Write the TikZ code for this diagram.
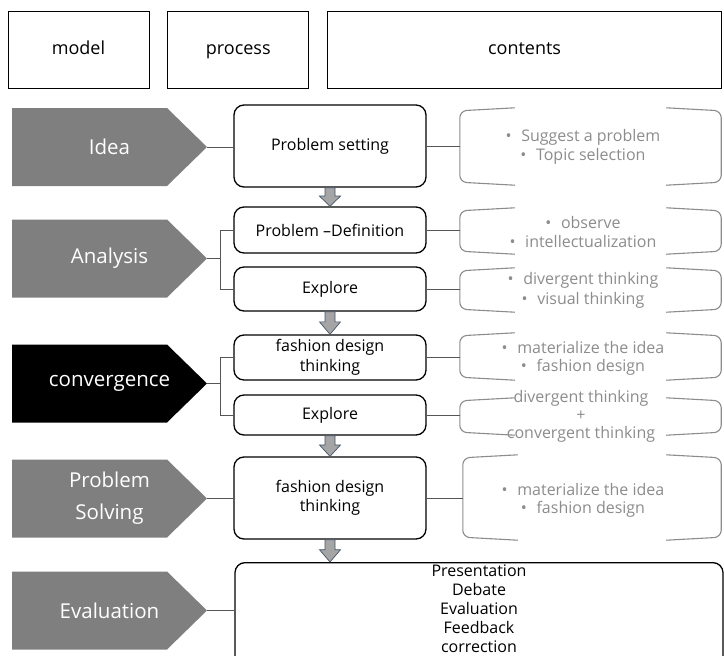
\documentclass[tikz,border=0pt]{standalone}
\usepackage{fontspec}
\setmainfont{Open Sans}
\usetikzlibrary{positioning,calc}

\definecolor{modelgray}{HTML}{7F7F7F}
\definecolor{arrowfill}{HTML}{A5A5A5}
\definecolor{arrowline}{HTML}{44546A}
\definecolor{contentgray}{HTML}{8C8C8C}
\definecolor{bracketgray}{HTML}{8C8C8C}
\definecolor{linkgray}{HTML}{555555}

% two open brackets round a contents node
\newcommand\contentbracket[1]{%
  \draw[bracketline] ($(#1.north west)+(55,-3)$) -- (#1.north west) -- (#1.south west) -- ($(#1.south west)+(55,3)$);
  \draw[bracketline] ($(#1.north east)+(-55,-3)$) -- (#1.north east) -- (#1.south east) -- ($(#1.south east)+(-55,3)$);}

\begin{document}
\begin{tikzpicture}[x=1pt, y=-1pt,
  headbox/.style={draw, line width=0.8pt, minimum width=141pt, minimum height=77pt, inner sep=0, text height=13pt, text depth=4pt, font=\fontsize{18}{22}\selectfont},
  modelstep/.style={minimum width=195pt, minimum height=78pt, inner sep=0, text=white, align=center, font=\fontsize{20.5}{32}\selectfont,
    path picture={\fill[#1] (path picture bounding box.north west) -- ($(path picture bounding box.north east)+(-40,0)$)
      -- (path picture bounding box.east) -- ($(path picture bounding box.south east)+(-40,0)$)
      -- (path picture bounding box.south west) -- cycle;}},
  modelstep/.default=modelgray,
  procbox/.style={draw, rounded corners=10pt, line width=1.3pt, minimum width=192pt, inner sep=2pt, align=center, font=\fontsize{16}{19.5}\selectfont},
  cbox/.style={minimum width=261pt, inner sep=0},
  ctext/.style={text=contentgray, align=center, inner sep=0, font=\fontsize{16}{19.5}\selectfont},
  bracketline/.style={draw=bracketgray, line width=1.1pt, rounded corners=7pt},
  linkline/.style={draw=linkgray, line width=0.8pt},
  blockarrow/.style={fill=arrowfill, draw=arrowline, line width=0.7pt,
    to path={($(\tikztostart)+(-5,0)$) -- ($(\tikztostart)+(5,0)$)
      -- ($(\tikztostart)!0.45!(\tikztotarget)+(5,0)$) -- ($(\tikztostart)!0.45!(\tikztotarget)+(10.5,0)$)
      -- (\tikztotarget) -- ($(\tikztostart)!0.45!(\tikztotarget)+(-10.5,0)$)
      -- ($(\tikztostart)!0.45!(\tikztotarget)+(-5,0)$) -- cycle}}]
\useasboundingbox (0,0) rectangle (724,656);
\clip (0,0) rectangle (724,656);

% column heads
\node (modelhead) [headbox] at (78.5,49.5) {model};
\node (processhead) [headbox, right=18pt of modelhead] {process};
\node (contentshead) [headbox, minimum width=394pt, right=18pt of processhead] {contents};

% model steps
\node (idea) [modelstep] at (109.5,147) {Idea};
\node (analysis) [modelstep] at (109.5,258.5) {Analysis};
\node (convergence) [modelstep=black] at (109.5,383.5) {convergence};
\node (solving) [modelstep] at (109.5,498.5) {Problem\\Solving};
\node (evaluation) [modelstep] at (109.5,610.5) {Evaluation};

% process boxes
\node (setting) [procbox, minimum height=82pt] at (330,146) {Problem setting};
\node (definition) [procbox, minimum height=46pt] at (330,230) {Problem –Definition};
\node (explore1) [procbox, minimum height=44pt] at (330,289) {Explore};
\node (design1) [procbox, minimum height=45pt] at (330,357.5) {fashion design\\thinking};
\node (explore2) [procbox, minimum height=40pt] at (330,415) {Explore};
\node (design2) [procbox, minimum height=82pt] at (330,498) {fashion design\\thinking};
\node (review) [procbox, minimum width=488pt, inner ysep=2pt, anchor=north, font=\fontsize{16}{19}\selectfont] at (479,562) {Presentation\\Debate\\Evaluation\\Feedback\\correction\rule[-14pt]{0pt}{14pt}};

% contents
\node (cb1) [cbox, minimum height=71pt] at (590.5,146.5) {};
\node (cb2) [cbox, minimum height=40pt] at (590.5,231) {};
\node (cb3) [cbox, minimum height=38pt] at (590.5,290) {};
\node (cb4) [cbox, minimum height=41pt] at (590.5,356.5) {};
\node (cb5) [cbox, minimum height=31pt] at (590.5,416.5) {};
\node (cb6) [cbox, minimum width=258pt, minimum height=79pt] at (592,497.5) {};
\foreach \b in {cb1,cb2,cb3,cb4,cb5,cb6} {\contentbracket{\b}}

\node (c1) [ctext] at (583,147) {\textbullet\hspace{0.6em}Suggest a problem\\\textbullet\hspace{0.6em}Topic selection};
\node (c2) [ctext, font=\fontsize{16}{18.5}\selectfont] at (583,232) {\textbullet\hspace{0.6em}observe\\\textbullet\hspace{0.6em}intellectualization};
\node (c3) [ctext] at (583,290.5) {\textbullet\hspace{0.6em}divergent thinking\\\textbullet\hspace{0.6em}visual thinking};
\node (c4) [ctext, font=\fontsize{16}{18}\selectfont] at (583,358) {\textbullet\hspace{0.6em}materialize the idea\\\textbullet\hspace{0.6em}fashion design};
\node (c5) [ctext, font=\fontsize{16}{18}\selectfont] at (581,416) {divergent thinking\\+\\convergent thinking};
\node (c6) [ctext, font=\fontsize{16}{18}\selectfont] at (583,500) {\textbullet\hspace{0.6em}materialize the idea\\\textbullet\hspace{0.6em}fashion design};

% model to process
\draw[linkline] (idea.east) -- (idea.east -| setting.west);
\coordinate (ajoin) at ($(analysis.east)+(13,0)$);
\draw[linkline] (analysis.east) -- (ajoin);
\draw[linkline] (definition.west) -| (ajoin) |- (explore1.west);
\coordinate (cjoin) at ($(convergence.east)+(13,0)$);
\draw[linkline] (convergence.east) -- (cjoin);
\draw[linkline] (design1.west) -| (cjoin) |- (explore2.west);
\draw[linkline] (solving.east) -- (solving.east -| design2.west);
\draw[linkline] (evaluation.east) -- (evaluation.east -| review.west);

% process to contents
\draw[linkline] (setting.east) -- (setting.east -| cb1.west);
\draw[linkline] (definition.east) -- (definition.east -| cb2.west);
\draw[linkline] (explore1.east) -- (explore1.east -| cb3.west);
\draw[linkline] (design1.east) -- (design1.east -| cb4.west);
\draw[linkline] (explore2.east) -- (explore2.east -| cb5.west);
\draw[linkline] (design2.east) -- (design2.east -| cb6.west);

% flow arrows
\draw[blockarrow] (setting.south) to (definition.north);
\draw[blockarrow] (explore1.south) to (design1.north);
\draw[blockarrow] (explore2.south) to (design2.north);
\draw[blockarrow] (design2.south) to (review.north -| design2.south);
\end{tikzpicture}
\end{document}
